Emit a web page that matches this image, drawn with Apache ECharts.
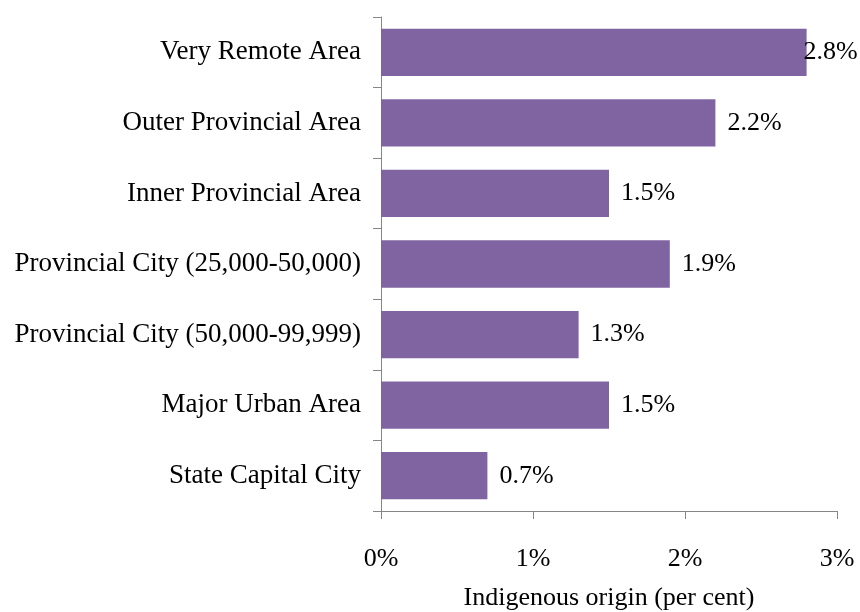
<!DOCTYPE html>
<html>
<head>
<meta charset="utf-8">
<script src="https://cdn.jsdelivr.net/npm/echarts@6/dist/echarts.min.js"></script>
<style>
html, body { margin: 0; padding: 0; background: #fff; }
#chart { width: 860px; height: 612px; }
</style>
</head>
<body>
<div id="chart"></div>
<script>
// bottom to top, as on the axis
const categories = [
	'State Capital City',
	'Major Urban Area',
	'Provincial City (50,000-99,999)',
	'Provincial City (25,000-50,000)',
	'Inner Provincial Area',
	'Outer Provincial Area',
	'Very Remote Area'
];
const values = [0.7, 1.5, 1.3, 1.9, 1.5, 2.2, 2.8];
const xTicks = [0, 1, 2, 3];

const axisColor = '#868686';
const font = '"Liberation Serif", "Times New Roman", serif';
const fs = 26;

let myEchart = echarts.init(document.getElementById('chart'));

let opt = {
	animation: false,
	grid: { left: 381, right: 23, top: 17, bottom: 101, outerBoundsMode: 'none', containLabel: false },
	xAxis: {
		type: 'value',
		min: xTicks[0],
		max: xTicks[xTicks.length - 1],
		interval: 1,
		name: 'Indigenous origin (per cent)',
		nameLocation: 'middle',
		nameGap: 74,
		nameTextStyle: { color: '#000', fontFamily: font, fontSize: fs },
		axisLine: { show: true, lineStyle: { color: axisColor, width: 1 } },
		axisTick: { show: true, length: 8, lineStyle: { color: axisColor } },
		splitLine: { show: false },
		axisLabel: {
			color: '#000', fontFamily: font, fontSize: fs, margin: 35,
			formatter: v => v + '%'
		}
	},
	yAxis: {
		type: 'category',
		data: categories,
		axisLine: { show: true, lineStyle: { color: axisColor, width: 1 } },
		axisTick: { show: true, length: 8, alignWithLabel: false, lineStyle: { color: axisColor } },
		axisLabel: { color: '#000', fontFamily: font, fontSize: 27, margin: 20 }
	},
	series: [{
		type: 'bar',
		barCategoryGap: '33%',
		itemStyle: { color: '#8064A2' },
		label: {
			show: true,
			position: 'right',
			distance: 12,
			color: '#000',
			fontFamily: font,
			fontSize: fs,
			formatter: p => p.value.toFixed(1) + '%'
		},
		data: values.map((v, i) => i === values.length - 1
			? { value: v, label: { distance: -3 } }
			: v)
	}]
};
myEchart.setOption(opt);
</script>
</body>
</html>
